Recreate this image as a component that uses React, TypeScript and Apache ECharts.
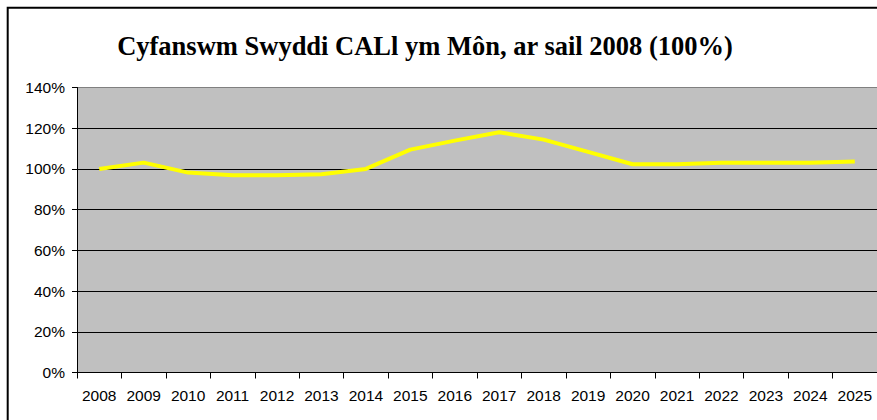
import React, { useEffect, useRef } from "react";
import * as echarts from "echarts";

const years = ["2008","2009","2010","2011","2012","2013","2014","2015","2016","2017","2018","2019","2020","2021","2022","2023","2024","2025"];
const jobsIndex = [100, 103.1, 98.2, 96.9, 96.9, 97.4, 100, 109.5, 113.9, 118, 114.4, 108.4, 102.3, 102.3, 103, 103, 103, 103.6];
const titleText = "Cyfanswm Swyddi CALl ym Môn, ar sail 2008 (100%)";

export default function App() {
  const ref = useRef<HTMLDivElement>(null);
  useEffect(() => {
    if (!ref.current) return;
    const chart = echarts.init(ref.current, null, { renderer: "svg" });
    chart.setOption({
      animation: false,
      backgroundColor: "#ffffff",
      graphic: [
        {
          type: "rect",
          shape: { x: 7.7, y: 7.7, width: 900, height: 450 },
          style: { fill: "none", stroke: "#000", lineWidth: 2 },
          z: 100,
        },
        {
          type: "text",
          x: 425,
          y: 46,
          style: {
            text: titleText,
            font: "bold 26.5px 'Liberation Serif', 'Times New Roman', serif",
            fill: "#000",
            textAlign: "center",
            textVerticalAlign: "middle",
          },
        },
      ],
      grid: {
        left: 77,
        top: 87.5,
        width: 801,
        height: 285,
        show: true,
        backgroundColor: "#C0C0C0",
        borderWidth: 0,
      },
      xAxis: {
        type: "category",
        data: years,
        boundaryGap: true,
        axisLine: { show: true, lineStyle: { color: "#000", width: 1 } },
        axisTick: { show: true, length: 6, lineStyle: { color: "#000" }, alignWithLabel: false },
        axisLabel: {
          color: "#000",
          fontSize: 15.5,
          fontFamily: "'Liberation Sans', Arial, sans-serif",
          margin: 15,
          interval: 0,
        },
        splitLine: { show: false },
      },
      yAxis: {
        type: "value",
        min: 0,
        max: 140,
        interval: 20,
        axisLine: { show: true, lineStyle: { color: "#000", width: 1 } },
        axisTick: { show: true, length: 5, lineStyle: { color: "#000" } },
        axisLabel: {
          color: "#000",
          fontSize: 15.5,
          fontFamily: "'Liberation Sans', Arial, sans-serif",
          margin: 12,
          formatter: (v: number) => `${v}%`,
        },
        splitLine: {
          show: true,
          lineStyle: {
            color: ["#000", "#000", "#000", "#000", "#000", "#000", "#000", "#808080"],
            width: 1,
          },
        },
      },
      series: [
        {
          type: "line",
          data: jobsIndex,
          symbol: "none",
          lineStyle: { color: "#FFFF00", width: 4 },
          itemStyle: { color: "#FFFF00" },
        },
      ],
    });
    return () => chart.dispose();
  }, []);
  return (
    <div
      ref={ref}
      style={{ position: "absolute", left: 0, top: 0, width: 877, height: 420 }}
    />
  );
}
